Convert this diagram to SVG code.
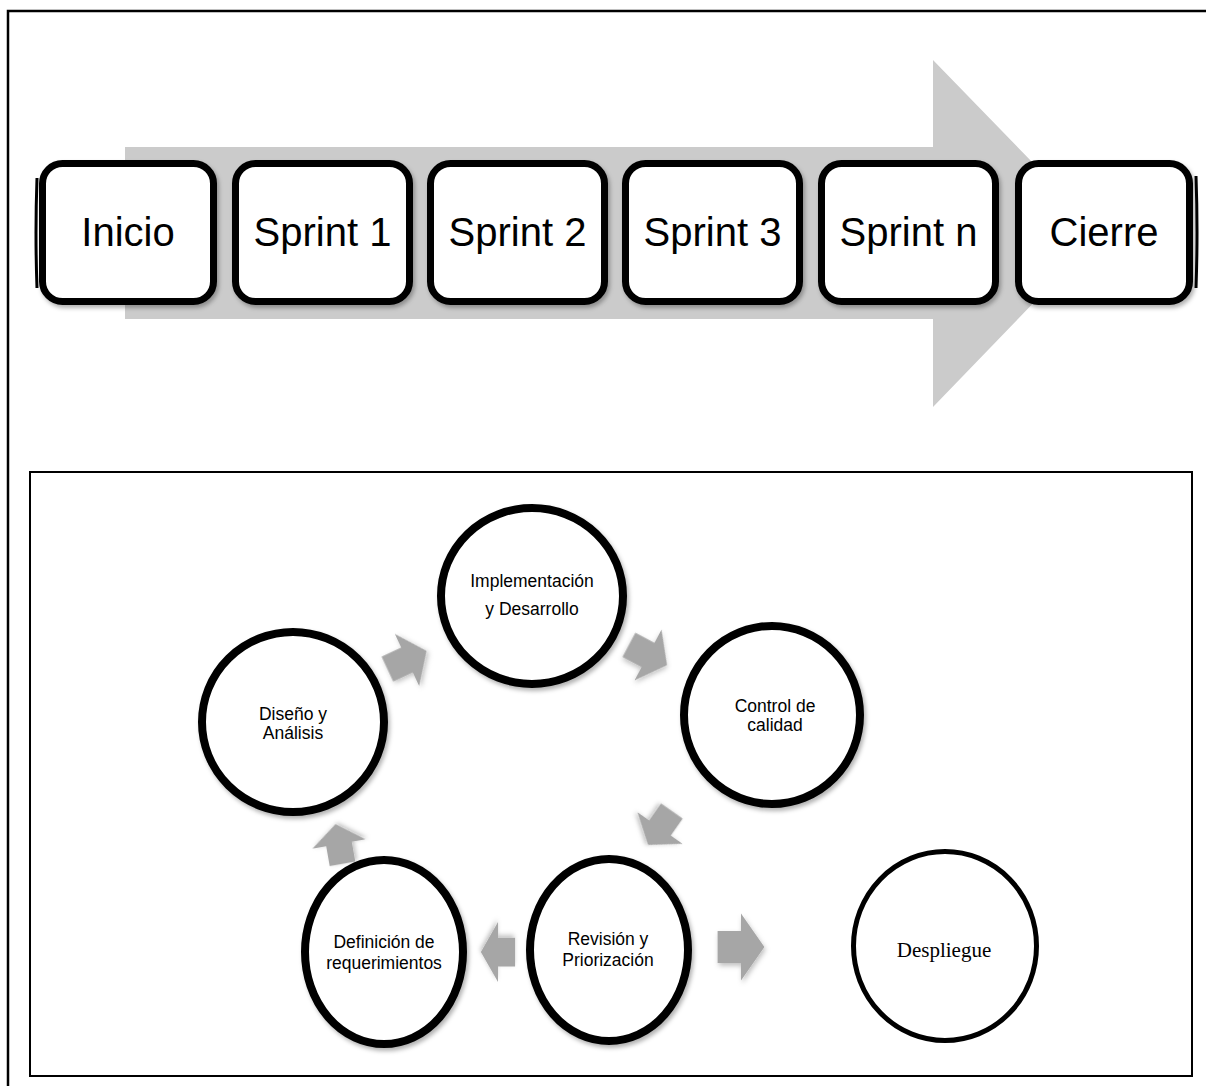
<svg xmlns="http://www.w3.org/2000/svg" width="1206" height="1086" viewBox="0 0 1206 1086">
<defs>
<style>
.box{fill:#fff;stroke:#000;stroke-width:7;filter:url(#sh)}
.bt{font-family:"Liberation Sans",Arial,sans-serif;font-size:40px;fill:#000;text-anchor:middle}
.cir{fill:#fff;stroke:#000;stroke-width:8;filter:url(#sh)}
.ct{font-family:"Liberation Sans",Arial,sans-serif;font-size:17.5px;fill:#000;text-anchor:middle}
.arr{fill:#a6a6a6;filter:url(#sh2)}
</style>
<filter id="sh" x="-10%" y="-10%" width="125%" height="125%">
<feDropShadow dx="2" dy="3" stdDeviation="2" flood-color="#000" flood-opacity="0.3"/>
</filter>
<filter id="sh2" x="-30%" y="-30%" width="160%" height="160%">
<feDropShadow dx="1" dy="2" stdDeviation="2" flood-color="#000" flood-opacity="0.25"/>
</filter>
<path id="ba" d="M-18,-11.5 H0 V-24 L18,0 L0,24 V11.5 H-18 Z"/>
</defs>

<rect width="1206" height="1086" fill="#fff"/>
<path d="M8,1086 V11 H1206" fill="none" stroke="#000" stroke-width="2.5"/>

<g id="timeline-arrow">
<path d="M125,147 H933 V60 L1101,233 L933,407 V319 H125 Z" fill="#cbcbcb"/>
</g>

<g id="inicio">
<path d="M37,178 Q35,233 37,288" fill="none" stroke="#000" stroke-width="3"/>
<rect class="box" x="42.5" y="163.5" width="171" height="138" rx="20"/>
<text class="bt" x="128" y="246">Inicio</text>
</g>
<g id="sprint1">
<rect class="box" x="235.5" y="163.5" width="174" height="138" rx="20"/>
<text class="bt" x="322.5" y="246">Sprint 1</text>
</g>
<g id="sprint2">
<rect class="box" x="430.5" y="163.5" width="174" height="138" rx="20"/>
<text class="bt" x="517.5" y="246">Sprint 2</text>
</g>
<g id="sprint3">
<rect class="box" x="625.5" y="163.5" width="174" height="138" rx="20"/>
<text class="bt" x="712.5" y="246">Sprint 3</text>
</g>
<g id="sprintn">
<rect class="box" x="821.5" y="163.5" width="174" height="138" rx="20"/>
<text class="bt" x="908.5" y="246">Sprint n</text>
</g>
<g id="cierre">
<path d="M1196,176 Q1198,232 1196,288" fill="none" stroke="#000" stroke-width="3"/>
<rect class="box" x="1018.5" y="163.5" width="171" height="138" rx="20"/>
<text class="bt" x="1104" y="246">Cierre</text>
</g>

<rect x="30" y="472" width="1162" height="604" fill="none" stroke="#000" stroke-width="2"/>

<g id="connectors">
<use href="#ba" class="arr" transform="translate(407,660) rotate(-25) scale(1.2)"/>
<use href="#ba" class="arr" transform="translate(648,655) rotate(28) scale(1.2)"/>
<use href="#ba" class="arr" transform="translate(660,828) rotate(125) scale(1.15)"/>
<use href="#ba" class="arr" transform="translate(498,952) rotate(180) scale(0.95,1.25)"/>
<use href="#ba" class="arr" transform="translate(741,947) scale(1.3,1.4)"/>
<use href="#ba" class="arr" transform="translate(339,844) rotate(-100) scale(1.12)"/>
</g>

<g id="implementacion">
<ellipse class="cir" cx="532" cy="596" rx="91" ry="88"/>
<text class="ct" x="532" y="587">Implementación</text>
<text class="ct" x="532" y="615">y Desarrollo</text>
</g>
<g id="diseno">
<ellipse class="cir" cx="293" cy="722" rx="91" ry="90"/>
<text class="ct" x="293" y="720">Diseño y</text>
<text class="ct" x="293" y="739">Análisis</text>
</g>
<g id="control">
<ellipse class="cir" cx="772" cy="715" rx="88" ry="89"/>
<text class="ct" x="775" y="712">Control de</text>
<text class="ct" x="775" y="731">calidad</text>
</g>
<g id="definicion">
<ellipse class="cir" cx="384" cy="952" rx="79" ry="92"/>
<text class="ct" x="384" y="948">Definición de</text>
<text class="ct" x="384" y="969">requerimientos</text>
</g>
<g id="revision">
<ellipse class="cir" cx="609" cy="950" rx="79" ry="91"/>
<text class="ct" x="608" y="945">Revisión y</text>
<text class="ct" x="608" y="966">Priorización</text>
</g>
<g id="despliegue">
<ellipse cx="945" cy="946" rx="91.5" ry="94.5" fill="#fff" stroke="#000" stroke-width="5"/>
<text x="944" y="957" font-family="'Liberation Serif','Times New Roman',serif" font-size="21" text-anchor="middle">Despliegue</text>
</g>
</svg>
